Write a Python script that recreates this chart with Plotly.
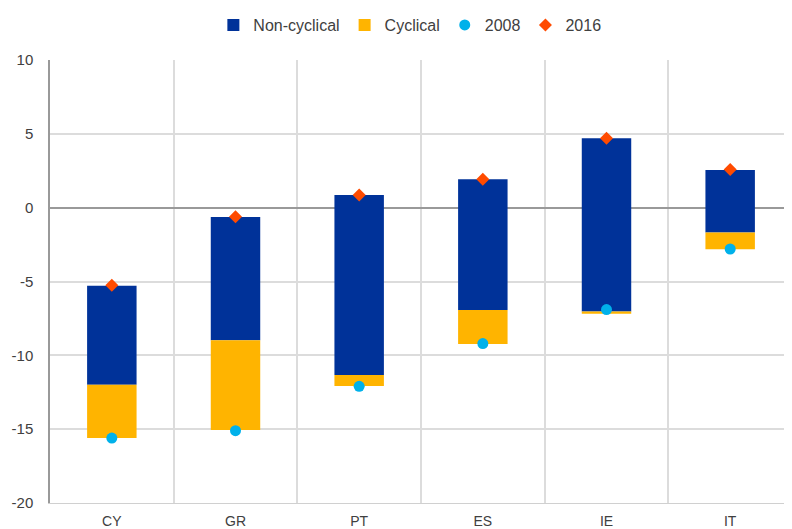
import plotly.graph_objects as go

countries = ["CY", "GR", "PT", "ES", "IE", "IT"]
noncyc_low = [-12.0, -8.98, -11.33, -6.93, -7.04, -1.69]
noncyc_high = [-5.28, -0.63, 0.86, 1.92, 4.70, 2.55]
cyc_low = [-15.6, -15.05, -12.07, -9.23, -7.18, -2.82]
cyc_high = [-12.0, -8.98, -11.33, -6.93, -7.04, -1.69]
val_2008 = [-15.6, -15.1, -12.1, -9.2, -6.9, -2.8]
val_2016 = [-5.25, -0.62, 0.85, 1.93, 4.70, 2.58]
y_tick_vals = [10, 5, 0, -5, -10, -15, -20]
y_tick_text = ["10", "5", "0", "-5", "-10", "-15", "-20"]

BLUE = "#003299"
YELLOW = "#FFB400"
CYAN = "#00B1EA"
RED = "#FF4B00"

fig = go.Figure()
fig.add_trace(go.Bar(
    x=countries, base=noncyc_low,
    y=[h - l for h, l in zip(noncyc_high, noncyc_low)],
    name="Non-cyclical", marker=dict(color=BLUE, line=dict(width=0)),
    width=0.4))
fig.add_trace(go.Bar(
    x=countries, base=cyc_low,
    y=[h - l for h, l in zip(cyc_high, cyc_low)],
    name="Cyclical", marker=dict(color=YELLOW, line=dict(width=0)),
    width=0.4))
fig.add_trace(go.Scatter(
    x=countries, y=val_2008, mode="markers", name="2008",
    marker=dict(symbol="circle", size=11, color=CYAN)))
fig.add_trace(go.Scatter(
    x=countries, y=val_2016, mode="markers", name="2016",
    marker=dict(symbol="diamond", size=10, color=RED)))

# page has an 8px body margin, so the figure is sized to fit the 792x529 window
fig.update_layout(
    width=784, height=521,
    barmode="overlay",
    plot_bgcolor="white", paper_bgcolor="white",
    margin=dict(l=42, r=0, t=52, b=26, autoexpand=False),
    font=dict(family="Liberation Sans, Arial, sans-serif", size=14, color="#404040"),
    legend=dict(orientation="h", x=0.485, xanchor="center", y=1.0, yanchor="top",
                yref="container", font=dict(size=16, color="#404040"),
                traceorder="normal", itemwidth=30),
    showlegend=True,
)
fig.update_xaxes(
    type="category", range=[-0.5, 5.5],
    tickson="boundaries", showgrid=True, gridcolor="#dcdcdc", gridwidth=1.5,
    ticks="", showline=True, linecolor="#d0d0d0", linewidth=1,
    tickfont=dict(size=14, color="#404040"), ticklabelstandoff=5,
)
fig.update_yaxes(
    range=[-20, 10], tickvals=y_tick_vals, ticktext=y_tick_text,
    showgrid=True, gridcolor="#dcdcdc", gridwidth=1.5,
    zeroline=True, zerolinecolor="#999999", zerolinewidth=2,
    showline=True, linecolor="#999999", linewidth=1.5,
    ticks="", ticklabelstandoff=12,
    tickfont=dict(size=15, color="#404040"),
)

fig.write_html("out.html")
